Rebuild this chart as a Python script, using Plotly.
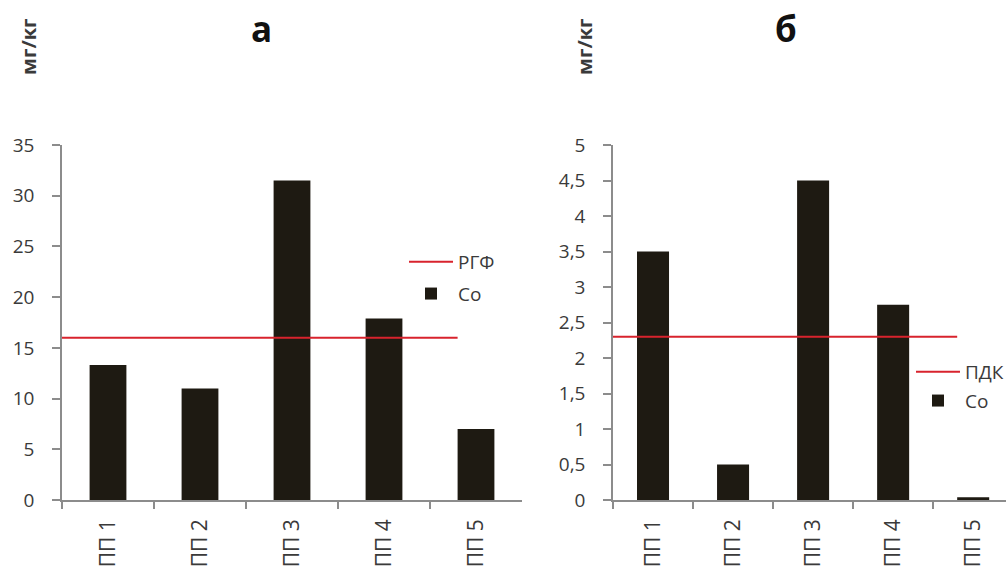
import plotly.graph_objects as go

# ---- data ----
categories = ["ПП 1", "ПП 2", "ПП 3", "ПП 4", "ПП 5"]
co_a = [13.3, 11.0, 31.5, 17.9, 7.0]
co_b = [3.5, 0.5, 4.5, 2.75, 0.04]
limit_a = 16.0      # РГФ
limit_b = 2.3       # ПДК
limit_span = [-0.5, 3.8]   # extent of the reference line in category units
title_a = "а"
title_b = "б"
unit = "мг/кг"

W, H = 1006, 576
BAR = "#1e1a12"
RED = "#d8232d"
AX = "#8c8c8c"
TXT = "#3a3a3a"
FONT = "Open Sans"

fig = go.Figure()

# panel a
fig.add_trace(go.Scatter(x=limit_span, y=[limit_a, limit_a], mode="lines",
                         line=dict(color=RED, width=2), name="РГФ",
                         xaxis="x3", yaxis="y", legend="legend",
                         legendgroup="a1", hoverinfo="skip"))
fig.add_trace(go.Bar(x=categories, y=co_a, marker=dict(color=BAR, line=dict(width=0)),
                     width=0.4, name="Co", xaxis="x", yaxis="y",
                     legend="legend", legendgroup="a2"))
# panel b
fig.add_trace(go.Scatter(x=limit_span, y=[limit_b, limit_b], mode="lines",
                         line=dict(color=RED, width=2), name="ПДК",
                         xaxis="x4", yaxis="y2", legend="legend2",
                         legendgroup="b1", hoverinfo="skip"))
fig.add_trace(go.Bar(x=categories, y=co_b, marker=dict(color=BAR, line=dict(width=0)),
                     width=0.4, name="Co", xaxis="x2", yaxis="y2",
                     legend="legend2", legendgroup="b2"))

y0 = (H - 500) / H
y1 = (H - 145) / H
dom_a = [62 / W, 522 / W]
dom_b = [613 / W, 1.0]

ytickfont = dict(family=FONT, size=19, color=TXT)
xtickfont = dict(family=FONT, size=21, color=TXT)

xcommon = dict(type="category", showline=True, linecolor=AX, linewidth=1.5,
               ticks="outside", ticklen=7, tickcolor=AX, tickwidth=1.5,
               tickson="boundaries", tickangle=-90, tickfont=xtickfont,
               ticklabelstandoff=9,
               showgrid=False, zeroline=False, fixedrange=True, automargin=False)
ycommon = dict(showline=True, linecolor=AX, linewidth=1.5, ticks="outside",
               ticklen=8, tickcolor=AX, tickwidth=1.5, tickfont=ytickfont,
               showgrid=False, zeroline=False, ticklabelstandoff=14,
               fixedrange=True, automargin=False)

fig.update_layout(
    width=W, height=H,
    margin=dict(l=0, r=0, t=0, b=0, pad=0, autoexpand=False),
    paper_bgcolor="white", plot_bgcolor="white",
    separators=", ",
    barmode="group",
    font=dict(family=FONT, color=TXT),
    xaxis=dict(domain=dom_a, anchor="y", range=[-0.5, 4.5], **xcommon),
    xaxis2=dict(domain=dom_b, anchor="y2", range=[-0.5, 4.41], **xcommon),
    xaxis3=dict(domain=dom_a, anchor="y", overlaying="x", range=[-0.5, 4.5],
                visible=False, fixedrange=True),
    xaxis4=dict(domain=dom_b, anchor="y2", overlaying="x2", range=[-0.5, 4.41],
                visible=False, fixedrange=True),
    yaxis=dict(domain=[y0, y1], anchor="x", range=[0, 35], dtick=5, **ycommon),
    yaxis2=dict(domain=[y0, y1], anchor="x2", range=[0, 5], dtick=0.5, **ycommon),
    legend=dict(x=404 / W, y=(H - 243) / H, xanchor="left", yanchor="top",
                font=dict(family=FONT, size=19, color=TXT), itemwidth=44,
                bgcolor="rgba(0,0,0,0)", tracegroupgap=4, traceorder="grouped"),
    legend2=dict(x=911 / W, y=(H - 353) / H, xanchor="left", yanchor="top",
                 font=dict(family=FONT, size=19, color=TXT), itemwidth=44,
                 bgcolor="rgba(0,0,0,0)", tracegroupgap=1, traceorder="grouped"),
    annotations=[
        dict(text="<b>" + title_a + "</b>", x=261 / W, y=(H - 29) / H,
             xanchor="center", yanchor="middle",
             xref="paper", yref="paper", showarrow=False,
             font=dict(family=FONT, size=35, color="#111111")),
        dict(text="<b>" + title_b + "</b>", x=786 / W, y=(H - 29) / H,
             xanchor="center", yanchor="middle",
             xref="paper", yref="paper", showarrow=False,
             font=dict(family=FONT, size=35, color="#111111")),
        dict(text="<b>" + unit + "</b>", x=29 / W, y=(H - 47) / H, textangle=-90,
             xanchor="center", yanchor="middle",
             xref="paper", yref="paper", showarrow=False,
             font=dict(family=FONT, size=20, color=TXT)),
        dict(text="<b>" + unit + "</b>", x=585 / W, y=(H - 47) / H, textangle=-90,
             xanchor="center", yanchor="middle",
             xref="paper", yref="paper", showarrow=False,
             font=dict(family=FONT, size=20, color=TXT)),
    ],
)

fig.write_html("out.html", config={"displayModeBar": False},
               post_script="document.body.style.margin='0';")
